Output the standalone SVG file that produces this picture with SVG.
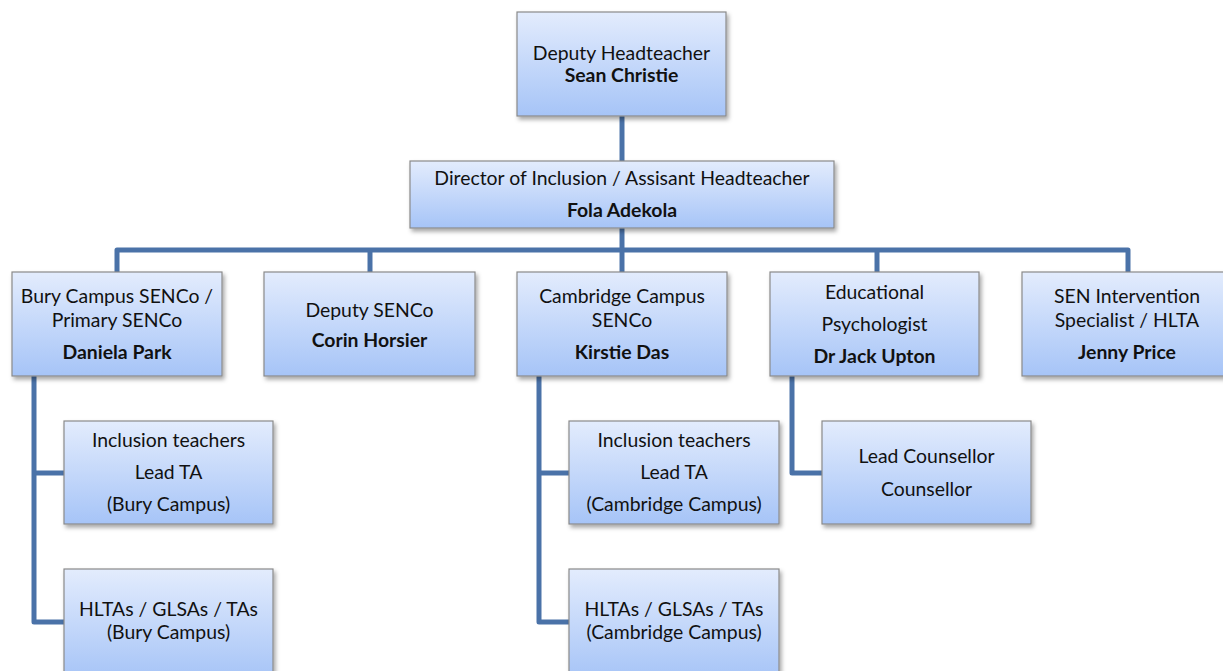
<svg xmlns="http://www.w3.org/2000/svg" width="1223" height="671" viewBox="0 0 1223 671">
<defs>
<linearGradient id="g" x1="0" y1="0" x2="0" y2="1">
<stop offset="0" stop-color="#e3ecfd"/>
<stop offset="1" stop-color="#a6c4f7"/>
</linearGradient>
<filter id="sh" x="-10%" y="-10%" width="125%" height="135%">
<feDropShadow dx="2" dy="3" stdDeviation="2.2" flood-color="#000" flood-opacity="0.35"/>
</filter>
</defs>
<style>
.box{fill:url(#g);stroke:#8a8a8a;stroke-width:1.2;filter:url(#sh)}
text{font-family:Lato,"Liberation Sans",sans-serif;font-size:19.4px;fill:#111;text-anchor:middle}
.b{font-weight:bold}
.c{fill:none;stroke:#4a72a8;stroke-width:5;stroke-linejoin:round;stroke-linecap:butt}
</style>
<rect width="1223" height="671" fill="#fff"/>
<g id="connectors">
<path class="c" d="M622 116V161"/>
<path class="c" d="M622 228V272"/>
<path class="c" d="M117 272V250H1128V272"/>
<path class="c" d="M370 250V272"/>
<path class="c" d="M877 250V272"/>
<path class="c" d="M34 376V622H64M34 473H64"/>
<path class="c" d="M539 376V622H569M539 473H569"/>
<path class="c" d="M792 376V473H822"/>
</g>
<g id="n-deputy-head"><rect class="box" x="517" y="12" width="209" height="104"/><text x="621.5" y="60">Deputy Headteacher</text><text class="b" x="621.5" y="82">Sean Christie</text></g>
<g id="n-director"><rect class="box" x="410" y="161" width="424" height="67"/><text x="622" y="185">Director of Inclusion / Assisant Headteacher</text><text class="b" x="622" y="217">Fola Adekola</text></g>
<g id="n-bury-senco"><rect class="box" x="12" y="272" width="210" height="104"/><text x="117" y="303">Bury Campus SENCo /</text><text x="117" y="327">Primary SENCo</text><text class="b" x="117" y="359">Daniela Park</text></g>
<g id="n-deputy-senco"><rect class="box" x="264" y="272" width="211" height="104"/><text x="369.5" y="317">Deputy SENCo</text><text class="b" x="369.5" y="347">Corin Horsier</text></g>
<g id="n-cam-senco"><rect class="box" x="517" y="272" width="210" height="104"/><text x="622" y="303">Cambridge Campus</text><text x="622" y="327">SENCo</text><text class="b" x="622" y="359">Kirstie Das</text></g>
<g id="n-edpsych"><rect class="box" x="770" y="272" width="209" height="104"/><text x="874.5" y="299">Educational</text><text x="874.5" y="331">Psychologist</text><text class="b" x="874.5" y="363">Dr Jack Upton</text></g>
<g id="n-sen-int"><rect class="box" x="1022" y="272" width="210" height="104"/><text x="1127" y="303">SEN Intervention</text><text x="1127" y="327">Specialist / HLTA</text><text class="b" x="1127" y="359">Jenny Price</text></g>
<g id="n-bury-incl"><rect class="box" x="64" y="421" width="209" height="103"/><text x="168.5" y="447">Inclusion teachers</text><text x="168.5" y="479">Lead TA</text><text x="168.5" y="511">(Bury Campus)</text></g>
<g id="n-bury-hlta"><rect class="box" x="64" y="569" width="209" height="110"/><text x="168.5" y="616">HLTAs / GLSAs / TAs</text><text x="168.5" y="639">(Bury Campus)</text></g>
<g id="n-cam-incl"><rect class="box" x="569" y="421" width="210" height="103"/><text x="674" y="447">Inclusion teachers</text><text x="674" y="479">Lead TA</text><text x="674" y="511">(Cambridge Campus)</text></g>
<g id="n-cam-hlta"><rect class="box" x="569" y="569" width="210" height="110"/><text x="674" y="616">HLTAs / GLSAs / TAs</text><text x="674" y="639">(Cambridge Campus)</text></g>
<g id="n-counsellor"><rect class="box" x="822" y="421" width="209" height="103"/><text x="926.5" y="463">Lead Counsellor</text><text x="926.5" y="496">Counsellor</text></g>
</svg>
